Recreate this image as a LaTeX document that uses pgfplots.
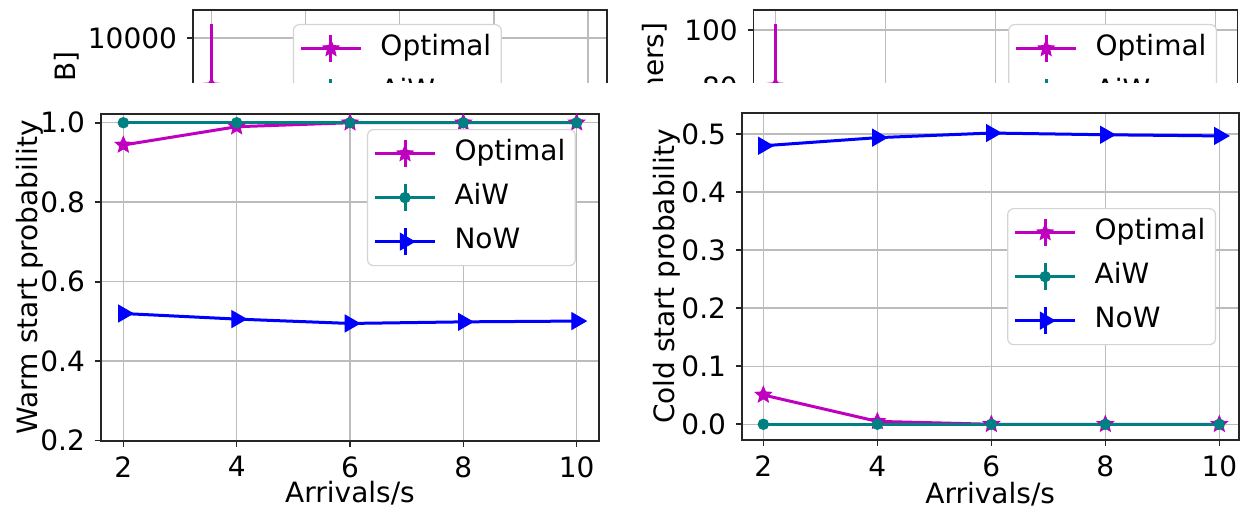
\documentclass[border=0pt]{standalone}
\usepackage{pgfplots}
\pgfplotsset{compat=1.18}
\usepackage{fontspec}
\setmainfont{DejaVu Sans}
\definecolor{mplm}{rgb}{0.75,0,0.75}
\definecolor{mplteal}{HTML}{008080}
\definecolor{mplblue}{HTML}{0000FF}
\definecolor{gridc}{HTML}{BCBCBC}
\definecolor{legedge}{HTML}{D4D4D4}
\definecolor{spine}{HTML}{262626}

\pgfdeclareplotmark{fstar}{%
  \pgfpathmoveto{\pgfpointpolar{90}{\pgfplotmarksize}}%
  \pgfpathlineto{\pgfpointpolar{126}{0.45\pgfplotmarksize}}%
  \pgfpathlineto{\pgfpointpolar{162}{\pgfplotmarksize}}%
  \pgfpathlineto{\pgfpointpolar{198}{0.45\pgfplotmarksize}}%
  \pgfpathlineto{\pgfpointpolar{234}{\pgfplotmarksize}}%
  \pgfpathlineto{\pgfpointpolar{270}{0.45\pgfplotmarksize}}%
  \pgfpathlineto{\pgfpointpolar{306}{\pgfplotmarksize}}%
  \pgfpathlineto{\pgfpointpolar{342}{0.45\pgfplotmarksize}}%
  \pgfpathlineto{\pgfpointpolar{18}{\pgfplotmarksize}}%
  \pgfpathlineto{\pgfpointpolar{54}{0.45\pgfplotmarksize}}%
  \pgfpathclose
  \pgfusepathqfillstroke
}

\pgfplotsset{
  base/.style={
    scale only axis,
    axis line style={spine, line width=0.9pt},
    tick align=outside,
    xtick pos=bottom, ytick pos=left,
    major tick length=3pt,
    tick style={spine, line width=0.8pt},
    grid=major,
    major grid style={gridc, line width=0.75pt},
    /pgf/number format/assume math mode=true,
    scaled y ticks=false,
    xmin=1.6, xmax=10.4,
    xtick={2,4,6,8,10},
    legend cell align=left,
    legend style={draw=legedge, rounded corners=3pt, fill=white, line width=0.6pt,
      anchor=north west, inner xsep=3pt, inner ysep=3pt, row sep=4pt, column sep=7pt,
      nodes={inner sep=2pt, text height=10.5pt, text depth=3.5pt}},
    legend image code/.code={
      \draw[##1, mark=none] (0pt,0pt) -- (30pt,0pt);
      \draw[##1, mark=none] (15pt,-6.75pt) -- (15pt,6.75pt);
      \path[##1] plot coordinates {(15pt,0pt)};
    },
  },
  onedec/.style={/pgf/number format/fixed, /pgf/number format/fixed zerofill, /pgf/number format/precision=1},
  opt/.style={mplm, line width=1.5pt, mark=fstar, mark size=4.2pt, mark options={solid, line width=0.5pt, fill=mplm}},
  aiw/.style={mplteal, line width=1.5pt, mark=*, mark size=2.6pt, mark options={solid, line width=0.5pt, fill=mplteal}},
  now/.style={mplblue, line width=1.5pt, mark=triangle*, mark size=4.8pt, mark options={solid, rotate=-90, line width=0.5pt, fill=mplblue}},
}

\begin{document}
\fontsize{14}{17}\selectfont
\begin{tikzpicture}
\path[use as bounding box] (0,0) rectangle (621pt,256.5pt);

% ---- partially hidden panels behind ----
\begin{axis}[base, at={(96.35pt,251.5pt)}, anchor=north west,
  width=207pt, height=100pt,
  ymin=6000, ymax=10650, ytick={8000,10000},
  /pgf/number format/set thousands separator={},
  ylabel={Memory [MB]},
  ylabel style={at={(axis description cs:-0.301,0.84)}, anchor=east},
  legend style={at={(0.242,0.93)}}]
\addplot[opt, error bars/.cd, y dir=both, y explicit, error mark=none,
  error bar style={line width=1.5pt, mplm}] coordinates {(2,8884) +- (0,1442)};
\addlegendentry{Optimal}
\addlegendimage{aiw}\addlegendentry{AiW}
\addlegendimage{now}\addlegendentry{NoW}
\end{axis}

\begin{axis}[base, at={(376.75pt,251.5pt)}, anchor=north west,
  width=242pt, height=100pt,
  ymin=36.8, ymax=107, ytick={40,60,80,100},
  ylabel={Idle [containers]},
  ylabel style={at={(axis description cs:-0.2035,0.985)}, anchor=east},
  legend style={at={(0.526,0.93)}}]
\addplot[opt, error bars/.cd, y dir=both, y explicit, error mark=none,
  error bar style={line width=1.5pt, mplm}] coordinates {(2,80.35) +- (0,21.75)};
\addlegendentry{Optimal}
\addlegendimage{aiw}\addlegendentry{AiW}
\addlegendimage{now}\addlegendentry{NoW}
\end{axis}

\fill[white] (-5pt,-5pt) rectangle (630pt,215pt);

% ---- front panels ----
\begin{axis}[base, onedec, at={(50.35pt,36.15pt)}, anchor=south west,
  width=249.3pt, height=163.35pt,
  ymin=0.2, ymax=1.022, ytick={0.2,0.4,0.6,0.8,1.0},
  ylabel={Warm start probability},
  ylabel style={at={(axis description cs:-0.142,0.5)}, anchor=center},
  xlabel={Arrivals/s},
  xlabel style={at={(axis description cs:0.5,-0.19)}, anchor=base},
  xticklabel style={/pgf/number format/precision=0, /pgf/number format/fixed zerofill=false},
  legend style={at={(0.534,0.954)}}]
\addplot[opt] coordinates {(2,0.944) (4,0.990) (6,1.0) (8,1.0) (10,1.0)};
\addlegendentry{Optimal}
\addplot[aiw] coordinates {(2,1.0) (4,1.0) (6,1.0) (8,1.0) (10,1.0)};
\addlegendentry{AiW}
\addplot[now] coordinates {(2,0.520) (4,0.506) (6,0.495) (8,0.499) (10,0.501)};
\addlegendentry{NoW}
\end{axis}

\begin{axis}[base, onedec, at={(370.85pt,36.5pt)}, anchor=south west,
  width=248.5pt, height=163.35pt,
  xmin=1.62, xmax=10.34,
  ymin=-0.0271, ymax=0.536, ytick={0,0.1,0.2,0.3,0.4,0.5},
  ylabel={Cold start probability},
  ylabel style={at={(axis description cs:-0.150,0.5)}, anchor=center},
  xlabel={Arrivals/s},
  xlabel style={at={(axis description cs:0.5,-0.193)}, anchor=base},
  xticklabel style={/pgf/number format/precision=0, /pgf/number format/fixed zerofill=false},
  legend style={at={(0.534,0.710)}}]
\addplot[opt] coordinates {(2,0.0505) (4,0.005) (6,0.0) (8,0.0) (10,0.0)};
\addlegendentry{Optimal}
\addplot[aiw] coordinates {(2,0.0) (4,0.0) (6,0.0) (8,0.0) (10,0.0)};
\addlegendentry{AiW}
\addplot[now] coordinates {(2,0.480) (4,0.494) (6,0.502) (8,0.499) (10,0.497)};
\addlegendentry{NoW}
\end{axis}
\end{tikzpicture}
\end{document}
